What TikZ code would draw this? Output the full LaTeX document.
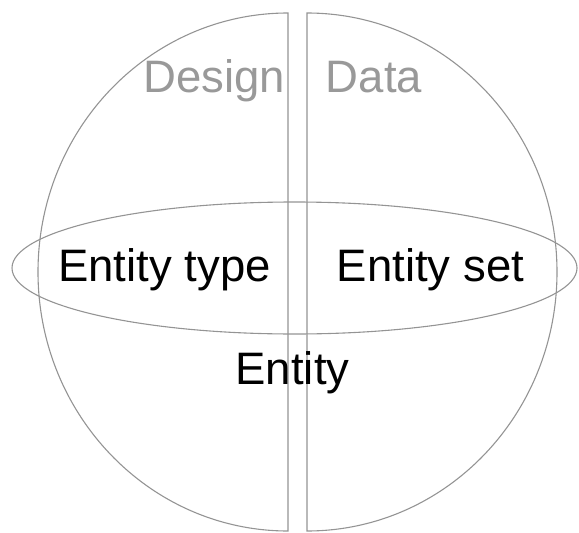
\documentclass[tikz,border=0pt]{standalone}
\usepackage{fontspec}
\setmainfont{Liberation Sans}
\usetikzlibrary{positioning}
\definecolor{rim}{gray}{0.58}
\definecolor{faint}{gray}{0.6}
\tikzset{half/.style={draw=rim, line width=1.1pt}, label text/.style={font=\fontsize{45.5}{50}\selectfont, inner sep=0pt, anchor=base}}

\begin{document}
\begin{tikzpicture}[x=1pt, y=-1pt]
  \useasboundingbox (0,0) rectangle (579,533);
  % two half discs
  \draw[half] (288,13) arc[start angle=90, end angle=270, x radius=250, y radius=-259] -- cycle;
  \draw[half] (307,13) arc[start angle=90, end angle=-90, x radius=250, y radius=-259] -- cycle;
  % the ring round the middle
  \draw[half] (294.5,268) ellipse[x radius=282.5, y radius=66];
  \node[label text, text=faint] (design) at (214,92) {Design};
  \node[label text, text=faint] (data) at (374,92) {Data};
  \node[label text] (etype) at (164.5,281) {Entity type};
  \node[label text] (eset) at (430.5,281) {Entity set};
  \node[label text] (entity) at (292.5,384) {Entity};
\end{tikzpicture}
\end{document}
